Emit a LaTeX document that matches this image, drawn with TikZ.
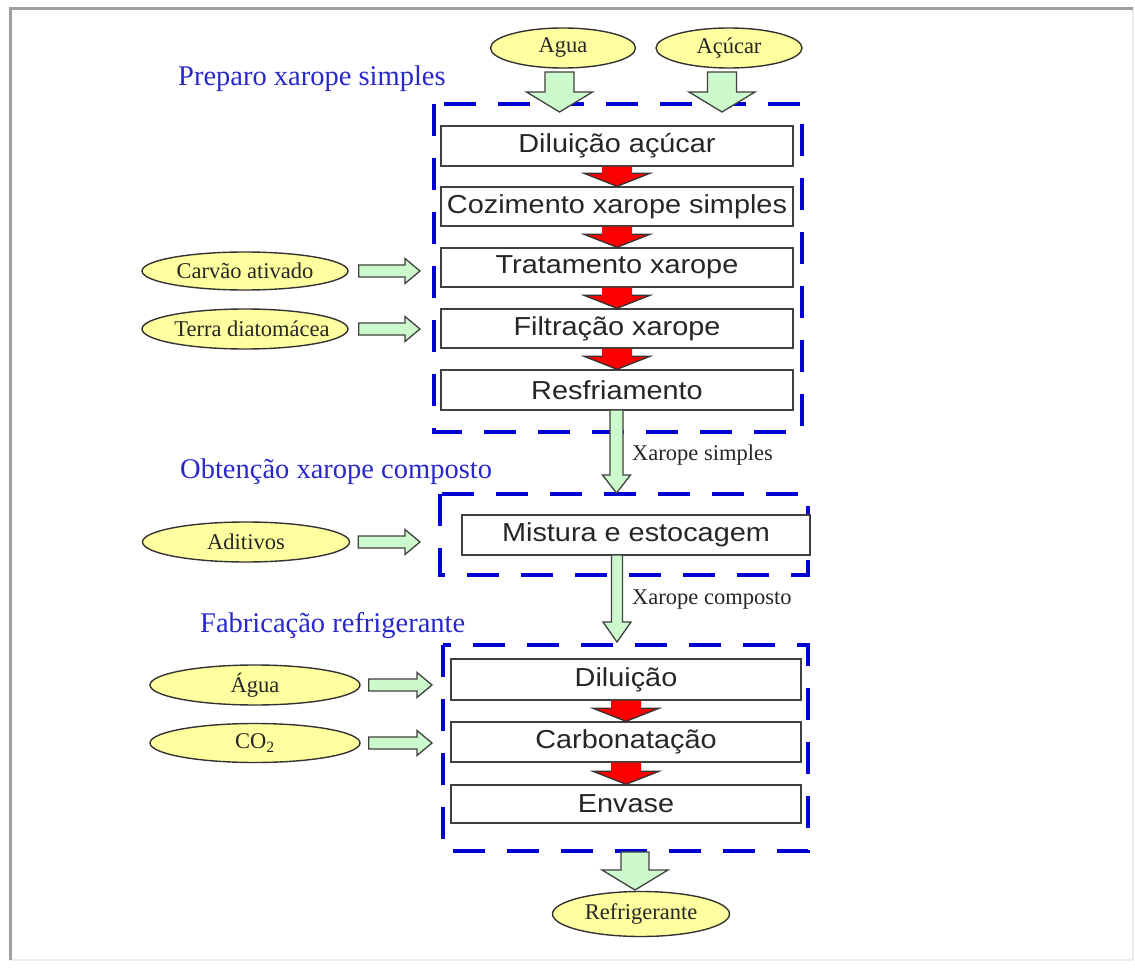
\documentclass[tikz,border=0pt]{standalone}
\usepackage{fontspec}
\setmainfont{Liberation Serif}
\newfontfamily\boxfont[FakeStretch=1.11]{Liberation Sans}
\usetikzlibrary{shapes.geometric,calc}
\definecolor{dblue}{RGB}{0,0,210}
\definecolor{tblue}{RGB}{40,40,205}
\definecolor{pyellow}{RGB}{255,255,160}
\definecolor{pgreen}{RGB}{205,250,205}
\definecolor{ared}{RGB}{250,0,0}
\tikzset{
  frame/.style={draw=gray!75,line width=3pt},
  framelight/.style={draw=gray!15,line width=1.5pt},
  groupbox/.style={draw=dblue,line width=4pt,dash pattern=on 32pt off 22pt},
  procbox/.style={draw=black!75,line width=1.4pt,fill=white,rectangle,inner sep=0pt,
    font=\boxfont\fontsize{26}{30}\selectfont,text=black!85},
  inbox/.style={ellipse,draw=black!80,line width=1.4pt,fill=pyellow,inner sep=0pt,
    font=\fontsize{22.5}{26}\selectfont,text=black!85},
  title/.style={anchor=west,inner sep=0pt,text=tblue,font=\fontsize{28.5}{32}\selectfont},
  flowlabel/.style={anchor=west,inner sep=0pt,text=black!85,font=\fontsize{22.5}{26}\selectfont},
  greenarrow/.style={fill=pgreen,draw=black!75,line width=1.3pt,line join=miter},
  redarrow/.style={fill=ared},
  headline/.style={draw=black!80,line width=1.3pt},
}
% vertical block arrow: style, start, end, shaft half-width, head half-width, head length
\newcommand{\vblock}[6]{%
  \path[#1] let \p1=(#2), \p2=(#3) in
    (\x1-#4,\y1) -- (\x1-#4,\y2+#6) -- (\x1-#5,\y2+#6) -- (\x1,\y2)
    -- (\x1+#5,\y2+#6) -- (\x1+#4,\y2+#6) -- (\x1+#4,\y1) -- cycle;}
% red arrow between process boxes
\newcommand{\redstep}[2]{%
  \vblock{redarrow}{#1}{#2}{15pt}{33pt}{13pt}%
  \path[headline] let \p1=(#1), \p2=(#2) in
    (\x1-15pt,\y2+13pt) -- (\x1-33pt,\y2+13pt) -- (\x1,\y2) -- (\x1+33pt,\y2+13pt) -- (\x1+15pt,\y2+13pt);}
% horizontal green arrow: start, tip
\newcommand{\hblock}[2]{%
  \path[greenarrow] let \p1=(#1), \p2=(#2) in
    (\x1,\y1+6pt) -- (\x2-15pt,\y1+6pt) -- (\x2-15pt,\y1+12.5pt) -- (\x2,\y1)
    -- (\x2-15pt,\y1-12.5pt) -- (\x2-15pt,\y1-6pt) -- (\x1,\y1-6pt) -- cycle;}
\begin{document}
\begin{tikzpicture}[x=1pt,y=-1pt]
\useasboundingbox (0,0) rectangle (1135,968);
% outer frame
\draw[framelight] (1133,9) -- (1133,960) -- (10,960);
\draw[frame] (10,960) -- (10,9) -- (1133,9);

% group boxes
\draw[groupbox] (434,104) rectangle (802,432);
\draw[groupbox] (440,494) rectangle (808,575);
\draw[groupbox] (443,645) rectangle (808,851);

% titles
\node[title] (t1) at (178,79) {Preparo xarope simples};
\node[title] (t2) at (180,472) {Obtenção xarope composto};
\node[title] (t3) at (200,626) {Fabricação refrigerante};

% inputs
\node[inbox,minimum width=145pt,minimum height=40pt] (agua1) at (563,48) {Agua};
\node[inbox,minimum width=146pt,minimum height=40pt] (acucar) at (729,48) {Açúcar};
\node[inbox,minimum width=206pt,minimum height=38pt,inner xsep=-4pt] (carvao) at (245,271) {Carvão ativado};
\node[inbox,minimum width=206pt,minimum height=40pt,inner xsep=-20pt] (terra) at (245,329) {\hspace*{14pt}Terra diatomácea};
\node[inbox,minimum width=207pt,minimum height=40pt] (aditivos) at (246,542) {Aditivos};
\node[inbox,minimum width=210pt,minimum height=40pt] (agua2) at (255,685) {Água};
\node[inbox,minimum width=210pt,minimum height=39pt] (co2) at (255,743) {CO\textsubscript{2}};
\node[inbox,minimum width=177pt,minimum height=45pt] (refri) at (641,914) {Refrigerante};

% process boxes
\node[procbox,minimum width=352pt,minimum height=40pt] (d1) at (617,146) {Diluição açúcar};
\node[procbox,minimum width=352pt,minimum height=39pt] (d2) at (617,206.5) {Cozimento xarope simples};
\node[procbox,minimum width=352pt,minimum height=39pt] (d3) at (617,267.5) {Tratamento xarope};
\node[procbox,minimum width=352pt,minimum height=39pt] (d4) at (617,328.5) {Filtração xarope};
\node[procbox,minimum width=352pt,minimum height=40pt] (d5) at (617,390) {Resfriamento};
\node[procbox,minimum width=348pt,minimum height=40pt] (mix) at (636,535) {Mistura e estocagem};
\node[procbox,minimum width=350pt,minimum height=41pt] (f1) at (626,679.5) {Diluição};
\node[procbox,minimum width=350pt,minimum height=40pt] (f2) at (626,742) {Carbonatação};
\node[procbox,minimum width=350pt,minimum height=38pt] (f3) at (626,804) {Envase};

% free ends of connectors
\coordinate (aguaS) at (559.5,72);
\coordinate (aguaT) at (559.5,112);
\coordinate (acucarS) at (722,72);
\coordinate (acucarT) at (722,112);
\coordinate (carvaoT) at (420,271);
\coordinate (terraT) at (420,331);
\coordinate (aditivosT) at (420,545);
\coordinate (agua2T) at (432,687);
\coordinate (co2T) at (432,745);
\coordinate (xs) at (616.5,410);
\coordinate (xsT) at (616.5,493);
\coordinate (xc) at (617,555);
\coordinate (xcT) at (617,642);
\coordinate (outS) at (635,852);
\coordinate (outT) at (635,890);

% top input arrows
\vblock{greenarrow}{aguaS}{aguaT}{14.5pt}{33pt}{20pt}
\vblock{greenarrow}{acucarS}{acucarT}{14.5pt}{33pt}{20pt}

% red arrows
\redstep{d1.south}{d2.north}
\redstep{d2.south}{d3.north}
\redstep{d3.south}{d4.north}
\redstep{d4.south}{d5.north}
\redstep{f1.south}{f2.north}
\redstep{f2.south}{f3.north}

% side input arrows
\hblock{[xshift=10pt]carvao.east}{carvaoT}
\hblock{[xshift=10pt]terra.east}{terraT}
\hblock{[xshift=8pt]aditivos.east}{aditivosT}
\hblock{[xshift=8pt]agua2.east}{agua2T}
\hblock{[xshift=8pt]co2.east}{co2T}

% flow between groups
\vblock{greenarrow}{xs}{xsT}{6.5pt}{14pt}{18pt}
\vblock{greenarrow}{xc}{xcT}{5.5pt}{14pt}{20pt}
\vblock{greenarrow}{outS}{outT}{14pt}{33pt}{20pt}

\node[flowlabel] (l1) at (632,455) {Xarope simples};
\node[flowlabel] (l2) at (632,600) {Xarope composto};
\end{tikzpicture}
\end{document}
